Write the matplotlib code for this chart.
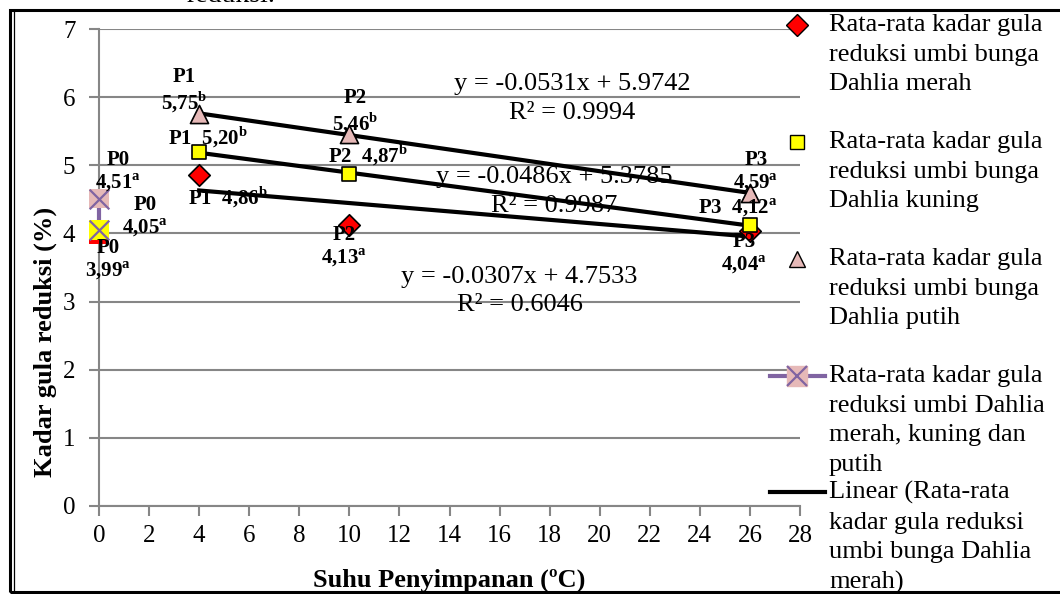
import numpy as np
import matplotlib.pyplot as plt
from matplotlib.lines import Line2D
from matplotlib.patches import Rectangle

plt.rcParams['font.family'] = ['Liberation Serif', 'DejaVu Serif']
plt.rcParams['mathtext.fontset'] = 'custom'
plt.rcParams['mathtext.rm'] = 'Liberation Serif'
plt.rcParams['mathtext.bf'] = 'Liberation Serif:bold'

# Storage temperature (oC) and reducing sugar content (%)
suhu = [0, 4, 10, 26]
merah = [3.99, 4.86, 4.13, 4.04]
kuning = [4.05, 5.20, 4.87, 4.12]
putih = [4.51, 5.75, 5.46, 4.59]

# labels for each point (treatment, notation letter)
perlakuan = ["P0", "P1", "P2", "P3"]
notasi_merah = ["a", "b", "a", "a"]
notasi_kuning = ["a", "b", "b", "a"]
notasi_putih = ["a", "b", "b", "a"]

# label offsets in pixels from the point (dx, dy, one_line)
off_merah = [(9, -26, False), (29, -22, True), (-5, -22, False), (-6, -23, False)]
off_kuning = [(46, 13, False), (9, 15, True), (19, 19, True), (-12, 17, True)]
off_putih = [(19, 27, False), (-15, 23, False), (6, 22, False), (6, 21, False)]

legend_labels = [
    "Rata-rata kadar gula\nreduksi umbi bunga\nDahlia merah",
    "Rata-rata kadar gula\nreduksi umbi bunga\nDahlia kuning",
    "Rata-rata kadar gula\nreduksi umbi bunga\nDahlia putih",
    "Rata-rata kadar gula\nreduksi umbi Dahlia\nmerah, kuning dan\nputih",
    "Linear (Rata-rata\nkadar gula reduksi\numbi bunga Dahlia\nmerah)",
]

RED = "#FF0000"
YEL = "#FFFF00"
PINK = "#E6B9B8"
PURPLE = "#8064A2"
GRID = "#868686"

W, H = 1060, 594
fig = plt.figure(figsize=(W / 100, H / 100), dpi=100)
ax = fig.add_axes([99 / W, 1 - 506 / H, 701 / W, 477 / H])

# frame around the chart area
fig.add_artist(Rectangle((10 / W, 2 / H), 1.2, 582 / H, transform=fig.transFigure,
                         fill=False, edgecolor="black", lw=2.2))
fig.add_artist(Line2D([13.5 / W, 13.5 / W], [2 / H, 584 / H], transform=fig.transFigure,
                      color="black", lw=0.9))
fig.text(231 / W, 1 - 2 / H, "reduksi.", ha="center", va="baseline", fontsize=20)

ax.set_xlim(0, 28)
ax.set_ylim(0, 7)
ax.set_xticks(range(0, 29, 2))
ax.set_yticks(range(0, 8))
ax.yaxis.grid(True, color=GRID, lw=1.5)
ax.set_axisbelow(True)
for s in ["top", "right"]:
    ax.spines[s].set_visible(False)
for s in ["left", "bottom"]:
    ax.spines[s].set_color(GRID)
    ax.spines[s].set_linewidth(1.5)
ax.tick_params(axis="both", colors=GRID, width=1.5, length=7, labelsize=18,
               labelcolor="black")
ax.tick_params(axis="y", pad=10)
ax.tick_params(axis="x", pad=7)
ax.set_xlabel("Suhu Penyimpanan (ºC)", fontsize=19, fontweight="bold", labelpad=15)
ax.set_ylabel("Kadar gula reduksi (%)", fontsize=19, fontweight="bold")
ax.yaxis.set_label_coords(-0.077, 0.344)
ax.yaxis.label.set_va("center")

x = np.array(suhu)

# trend lines fitted on the stored samples (4, 10, 26 oC)
eq_pos = [(16.8, 3.155), (18.2, 4.62), (18.9, 5.98)]
for vals, (ex, ey) in zip([merah, kuning, putih], eq_pos):
    yv = np.array(vals)
    k, b = np.polyfit(x[1:], yv[1:], 1)
    r2 = np.corrcoef(x[1:], yv[1:])[0, 1] ** 2
    xs = np.array([x[1], x[-1]])
    ax.plot(xs, k * xs + b, color="black", lw=3, zorder=4)
    ax.text(ex, ey, f"y = {k:.4f}x + {b:.4f}\nR² = {r2:.4f}", ha="center", va="center",
            fontsize=19, linespacing=1.4, zorder=3)

# averages at 0 oC joined by a purple line
awal = [merah[0], kuning[0], putih[0]]
ax.plot(x[:1].repeat(3), awal, color=PURPLE, lw=3, zorder=5, clip_on=False)

ax.scatter(x[1:], merah[1:], marker="D", s=120, c=RED, edgecolors="black", lw=1.2, zorder=6)
ax.scatter(x[1:], kuning[1:], marker="s", s=110, c=YEL, edgecolors="black", lw=1.2, zorder=6)
ax.scatter(x[1:], putih[1:], marker="^", s=170, c=PINK, edgecolors="black", lw=1.2, zorder=6)
ax.scatter(x[:1].repeat(3), awal, marker="s", s=200, c=[RED, YEL, PINK], lw=0,
           zorder=6, clip_on=False)
ax.scatter(x[:1].repeat(2), awal[1:], marker="x", s=200, c=PURPLE, lw=1.6,
           zorder=7, clip_on=False)

for vals, nots, offs in [(merah, notasi_merah, off_merah), (kuning, notasi_kuning, off_kuning),
                         (putih, notasi_putih, off_putih)]:
    for xi, yi, p, n, (dx, dy, one) in zip(suhu, vals, perlakuan, nots, offs):
        val = f"{yi:.2f}".replace(".", ",") + r"$^{\mathbf{" + n + "}}$"
        txt = f"{p}  {val}" if one else f"{p}\n{val}"
        ax.annotate(txt, (xi, yi), xytext=(dx, dy), textcoords="offset pixels",
                    ha="center", va="center", fontsize=15, fontweight="bold",
                    linespacing=1.1, zorder=8, annotation_clip=False)

# legend drawn at the right of the plot
hx, tx = 797 / W, 829 / W
tops = [25, 142, 259, 376, 492]
handles = [dict(marker="D", ms=11, mfc=RED, mec="black", ls="none"),
           dict(marker="s", ms=10, mfc=YEL, mec="black", ls="none"),
           dict(marker="^", ms=12, mfc=PINK, mec="black", ls="none"),
           None,
           dict(marker=None, color="black", lw=3)]
for lab, ty, hd in zip(legend_labels, tops, handles):
    yf = 1 - ty / H
    if hd is None:
        fig.add_artist(Line2D([770 / W, 825 / W], [yf, yf], color=PURPLE, lw=3,
                              transform=fig.transFigure))
        fig.add_artist(Line2D([hx], [yf], marker="s", ms=14, mfc=PINK, mec=PINK,
                              ls="none", transform=fig.transFigure))
        fig.add_artist(Line2D([hx], [yf], marker="x", ms=14, mec=PURPLE, mew=1.6,
                              ls="none", transform=fig.transFigure))
    elif hd.get("marker") is None:
        fig.add_artist(Line2D([770 / W, 825 / W], [yf, yf], transform=fig.transFigure,
                              color="black", lw=3))
    else:
        fig.add_artist(Line2D([hx], [yf], transform=fig.transFigure, **hd))
    fig.text(tx, yf + 11 / H, lab, ha="left", va="top", fontsize=19, linespacing=1.45)

fig.savefig("out.png", dpi=100)
